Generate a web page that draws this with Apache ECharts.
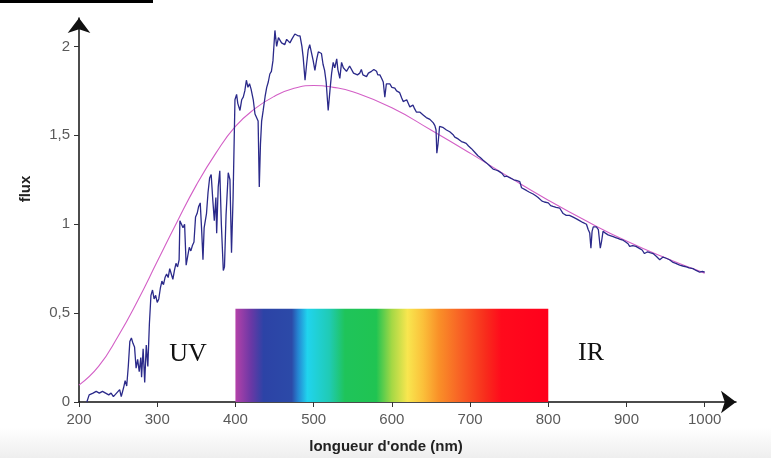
<!DOCTYPE html>
<html>
<head>
<meta charset="utf-8">
<script src="https://cdn.jsdelivr.net/npm/echarts@6/dist/echarts.min.js"></script>
<style>html,body{margin:0;padding:0;background:#fff}#main{width:771px;height:458px}</style>
</head>
<body>
<div id="main"></div>
<script>
// ---- data ----
const wavelengthTicks = [200, 300, 400, 500, 600, 700, 800, 900, 1000];
const fluxTicks = [0, 0.5, 1, 1.5, 2];

const blackbodyNm   = [200, 225, 250, 275, 300, 325, 350, 375, 400, 425, 450, 475, 500, 525, 550, 600, 650, 700, 750, 800, 850, 900, 950, 1000];
const blackbodyFlux = [0.095, 0.2, 0.37, 0.57, 0.79, 1.01, 1.22, 1.40, 1.55, 1.65, 1.72, 1.765, 1.78, 1.77, 1.745, 1.655, 1.53, 1.40, 1.265, 1.135, 1.015, 0.905, 0.81, 0.725];

const solarNm = [210,213,218,222,226,230,234,238,241,244,248,252,254,257,259,261,263,265,267,269,271,273,275,277,279,280,282,284,286,288,290,292,294,296,298,300,302,304,306,308,310,312,314,316,318,320,322,324,326,328,329,331,333,335,337,339,341,343,345,347,349,351,353,355,357,358.5,360,363,365,367,369,371,373,375,376,378,380,382,384.5,386,388,390.8,393,395,397,399.4,401.5,403,405.8,408,410,412,414,416,418,420,422.8,425,427,429,430.5,432,433.5,435.5,438,440,442,444,446,448,450.5,452.7,455,457,459,461,463,465.5,467,469.7,472,474,476,478,480,482.6,485,486.6,489,491,493,495,497,499.4,501.6,504,506,508,510,512,514,516,518.6,521,523,525,527,529.5,531,533.5,535.7,538,540,542,544,546,548.5,551,553,556,559,561,563,565,567.6,570,574,577,580.4,582,584.7,587,589,591,593,595,597.4,600,603.8,606,608,610,612.6,614.5,616.6,619,621,623,625,627,629,631.5,634,636,638,640,642,644,646,648.6,650.6,653,655,656.5,657.5,659,661,663,665,667,669.8,672,674,676,678,680.5,683,684.7,687,689,692,695,698,701.8,704,706,708,710,713,716.7,719,721,723,726,729.5,733,736,738,741,744,747,750.6,753,756,760,763.6,765.8,768,772,776,780.6,784,787,789,792,795,797.4,800,803,806,810,814.7,817,819,821,823,827,831.8,836,840,844,848.8,851,853,854.5,856,857.5,861.5,864,866.5,868,870,873,876.4,880,883,886,889,892,895.6,899,902,904,906,908,912,917,920,923,925,927,930,934,938,942.5,946.7,950,955,959.6,963,968,972,976.5,980,985,989,993.6,997,1000];
const solarFlux = [0.0,0.04,0.05,0.06,0.05,0.06,0.05,0.04,0.05,0.03,0.05,0.07,0.03,0.08,0.12,0.09,0.2,0.34,0.36,0.33,0.31,0.19,0.24,0.17,0.25,0.14,0.3,0.11,0.32,0.2,0.44,0.6,0.63,0.58,0.6,0.56,0.58,0.64,0.68,0.66,0.7,0.72,0.7,0.75,0.72,0.69,0.74,0.78,0.76,0.8,1.02,1.0,0.98,1.0,0.77,0.82,0.87,0.85,0.88,0.9,1.04,1.06,1.1,1.12,0.95,0.80,0.98,1.06,1.18,1.26,1.28,1.14,1.02,1.15,0.95,1.21,1.30,1.0,0.74,0.76,1.05,1.29,1.25,0.84,1.15,1.70,1.73,1.68,1.64,1.70,1.715,1.75,1.81,1.77,1.79,1.76,1.70,1.62,1.60,1.58,1.21,1.45,1.58,1.64,1.72,1.77,1.80,1.845,1.86,1.92,2.09,2.0,2.05,2.04,2.02,2.03,2.01,2.04,2.03,2.02,2.04,2.05,2.07,2.08,2.06,2.06,2.0,1.94,1.81,1.9,1.98,2.01,2.02,1.92,1.865,1.93,1.97,1.98,1.96,1.9,1.865,1.80,1.64,1.76,1.85,1.91,1.88,1.93,1.87,1.82,1.91,1.88,1.89,1.86,1.85,1.89,1.88,1.85,1.86,1.84,1.85,1.87,1.84,1.85,1.83,1.85,1.86,1.87,1.86,1.84,1.84,1.82,1.80,1.715,1.79,1.80,1.79,1.77,1.765,1.75,1.76,1.74,1.71,1.69,1.69,1.70,1.69,1.66,1.655,1.67,1.65,1.63,1.635,1.63,1.62,1.615,1.61,1.60,1.60,1.59,1.585,1.57,1.555,1.53,1.40,1.45,1.55,1.555,1.545,1.54,1.53,1.525,1.52,1.51,1.505,1.49,1.485,1.48,1.47,1.465,1.46,1.455,1.44,1.425,1.415,1.405,1.395,1.385,1.375,1.36,1.355,1.345,1.34,1.325,1.31,1.305,1.30,1.295,1.285,1.268,1.27,1.262,1.255,1.25,1.245,1.24,1.205,1.215,1.19,1.18,1.17,1.16,1.15,1.145,1.13,1.125,1.13,1.12,1.105,1.10,1.095,1.09,1.08,1.06,1.065,1.05,1.05,1.04,1.03,1.02,1.01,1.0,0.97,0.95,0.865,0.96,0.985,0.985,0.97,0.865,0.90,0.96,0.95,0.94,0.935,0.93,0.925,0.92,0.915,0.91,0.90,0.89,0.875,0.885,0.88,0.875,0.863,0.855,0.835,0.845,0.845,0.84,0.835,0.82,0.80,0.815,0.81,0.80,0.785,0.78,0.77,0.765,0.76,0.755,0.75,0.74,0.73,0.735,0.73];

const visibleRange = [400, 800];
const visibleBandTop = 0.525;
const regionLabels = ['UV', 'IR'];
const xAxisName = "longueur d'onde (nm)";
const yAxisName = 'flux';

// ---- chart ----
const zip = (a, b) => a.map((v, i) => [v, b[i]]);
const chart = echarts.init(document.getElementById('main'), null, { renderer: 'canvas' });

const rainbow = new echarts.graphic.LinearGradient(0, 0, 1, 0, [
  { offset: 0.00, color: '#b441a9' },
  { offset: 0.05, color: '#6a38a5' },
  { offset: 0.09, color: '#2c43a6' },
  { offset: 0.18, color: '#2c4aa8' },
  { offset: 0.20, color: '#2585d2' },
  { offset: 0.23, color: '#20d4ee' },
  { offset: 0.30, color: '#20cbb5' },
  { offset: 0.35, color: '#1fc45a' },
  { offset: 0.45, color: '#20c452' },
  { offset: 0.50, color: '#a5d845' },
  { offset: 0.55, color: '#f8e64f' },
  { offset: 0.60, color: '#fbc03a' },
  { offset: 0.65, color: '#f99028' },
  { offset: 0.72, color: '#f86025' },
  { offset: 0.80, color: '#f82c1c' },
  { offset: 0.85, color: '#ff0a1c' },
  { offset: 1.00, color: '#ff001c' }
]);

const labelFont = { color: '#5a5a5a', fontSize: 15, fontFamily: 'Liberation Sans, Arial, sans-serif' };

chart.setOption({
  animation: false,
  backgroundColor: '#fff',
  grid: { left: 79, right: 35, top: 18, bottom: 56 },
  xAxis: {
    type: 'value', min: 200, max: 1040,
    axisLine: { show: true, symbol: ['none', 'arrow'], symbolSize: [17, 15], lineStyle: { color: '#111', width: 1.5 } },
    axisTick: { show: true, customValues: wavelengthTicks, length: 5, lineStyle: { color: '#333' } },
    axisLabel: Object.assign({ customValues: wavelengthTicks, margin: 10, formatter: v => String(v) }, labelFont),
    splitLine: { show: false }
  },
  yAxis: {
    type: 'value', min: 0, max: 2.16,
    axisLine: { show: true, symbol: ['none', 'arrow'], symbolSize: [17, 15], lineStyle: { color: '#111', width: 1.5 } },
    axisTick: { show: true, customValues: fluxTicks, length: 5, lineStyle: { color: '#333' } },
    axisLabel: Object.assign({ customValues: fluxTicks, margin: 9, formatter: v => String(v).replace('.', ',') }, labelFont),
    splitLine: { show: false }
  },
  series: [
    {
      type: 'line', name: 'corps noir', data: zip(blackbodyNm, blackbodyFlux),
      smooth: true, showSymbol: false, z: 3,
      lineStyle: { color: '#d35fc6', width: 1.1 },
      markArea: {
        silent: true,
        itemStyle: { color: rainbow },
        data: [[{ xAxis: visibleRange[0], yAxis: 0 }, { xAxis: visibleRange[1], yAxis: visibleBandTop }]]
      }
    },
    {
      type: 'line', name: 'soleil', data: zip(solarNm, solarFlux),
      showSymbol: false, z: 4,
      lineStyle: { color: '#2b2a8a', width: 1.3 }
    }
  ],
  graphic: [
    { type: 'rect', left: 0, top: 428, z: -10, shape: { width: 771, height: 30 },
      style: { fill: new echarts.graphic.LinearGradient(0, 0, 0, 1, [{ offset: 0, color: '#ffffff' }, { offset: 1, color: '#eeeeee' }]) } },
    { type: 'rect', left: 0, top: 0, shape: { width: 153, height: 3 }, style: { fill: '#000' } },
    { type: 'text', x: 188, y: 354, style: { text: regionLabels[0], font: '26px "Liberation Serif", serif', fill: '#111', textAlign: 'center', textVerticalAlign: 'middle' } },
    { type: 'text', x: 591, y: 353, style: { text: regionLabels[1], font: '26px "Liberation Serif", serif', fill: '#111', textAlign: 'center', textVerticalAlign: 'middle' } },
    { type: 'text', x: 386, y: 447, style: { text: xAxisName, font: 'bold 15px "Liberation Sans", Arial, sans-serif', fill: '#222', textAlign: 'center', textVerticalAlign: 'middle' } },
    { type: 'text', x: 26, y: 189, rotation: Math.PI / 2, style: { text: yAxisName, font: 'bold 15px "Liberation Sans", Arial, sans-serif', fill: '#222', textAlign: 'center', textVerticalAlign: 'middle' } }
  ]
});
</script>
</body>
</html>
